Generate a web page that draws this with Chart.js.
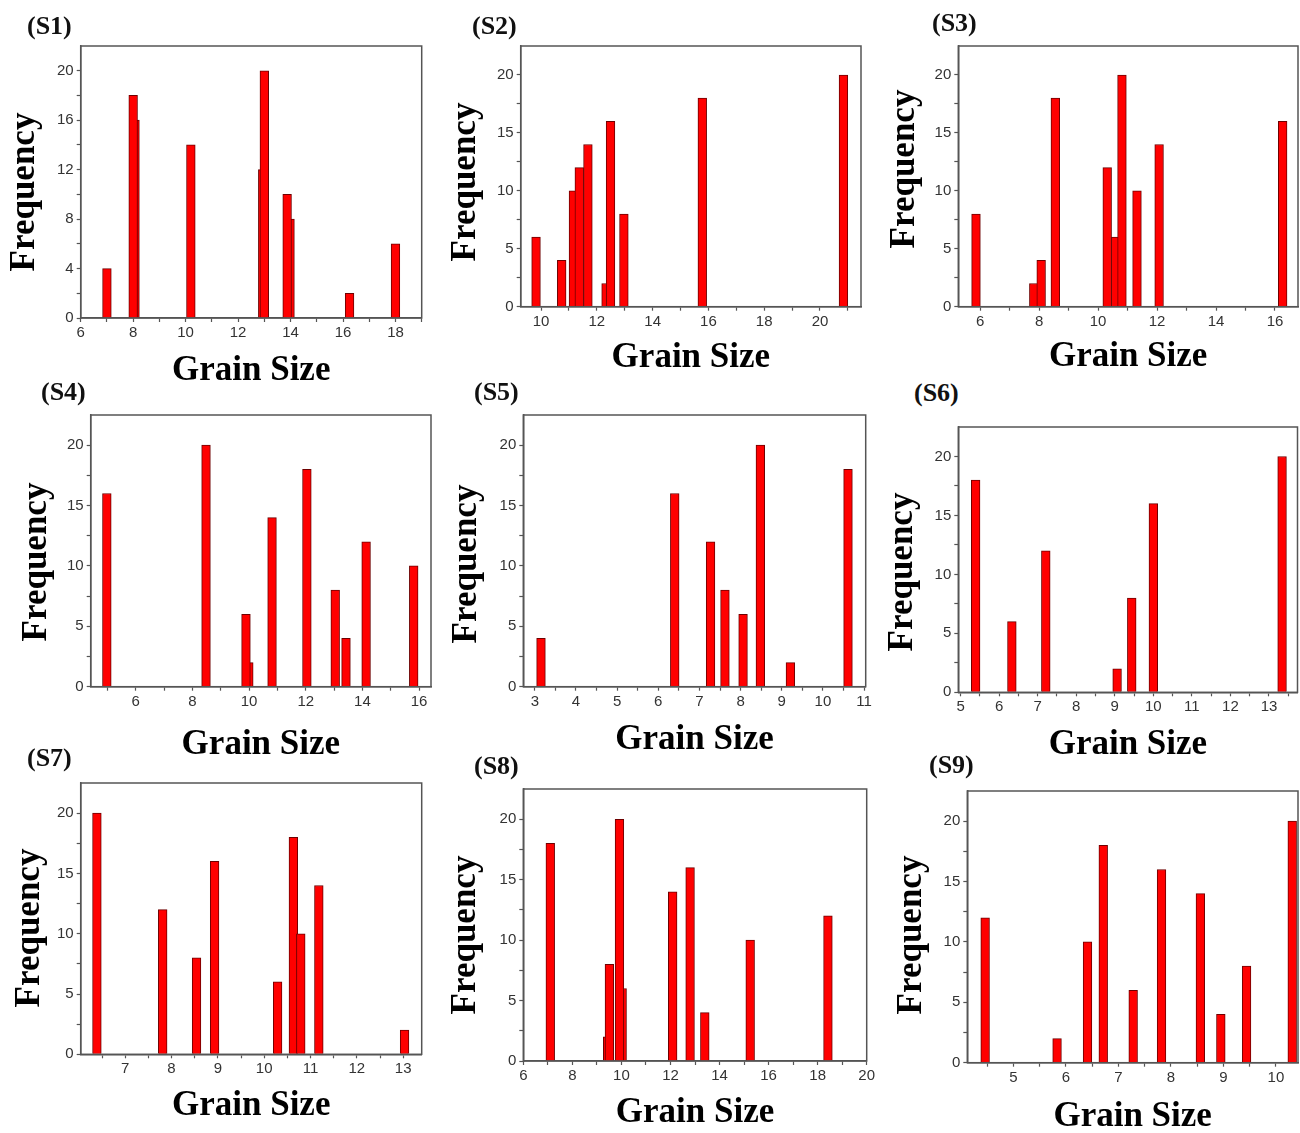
<!DOCTYPE html>
<html>
<head>
<meta charset="utf-8">
<title>Grain size distributions S1-S9</title>
<script src="https://cdn.jsdelivr.net/npm/chart.js@4.4.1/dist/chart.umd.min.js"></script>
<style>
  html, body { margin: 0; padding: 0; background: #fff; overflow: hidden; }
  body { width: 1300px; height: 1133px; position: relative; }
  canvas { position: absolute; }
  .tag { position: absolute; font: bold 26px "Liberation Serif", "Times New Roman", serif; line-height: 26px; color: #111; white-space: nowrap; }
</style>
</head>
<body>
<script>
// grain size / frequency for each sample, in drawing order (bars that sit behind come first)
const sizesS1 = [7.0, 8.07, 8.0, 10.2, 12.94, 13.0, 13.98, 13.87, 16.25, 18.0];
const countsS1 = [4, 16, 18, 14, 12, 20, 8, 10, 2, 6];

const sizesS2 = [9.82, 10.74, 11.16, 11.37, 11.68, 12.33, 12.49, 12.97, 15.78, 20.84];
const countsS2 = [6, 4, 10, 12, 14, 2, 16, 8, 18, 20];

const sizesS3 = [5.86, 7.82, 8.07, 8.55, 10.31, 10.6, 10.81, 11.32, 12.07, 16.26];
const countsS3 = [8, 2, 4, 18, 12, 6, 20, 10, 14, 16];

const sizesS4 = [4.98, 8.48, 9.99, 9.89, 10.81, 12.04, 13.04, 13.42, 14.13, 15.81];
const countsS4 = [16, 20, 2, 6, 14, 18, 8, 4, 12, 10];

const sizesS5 = [3.15, 6.40, 7.27, 7.62, 8.06, 8.48, 9.21, 10.61];
const countsS5 = [4, 16, 12, 8, 6, 20, 2, 18];

const sizesS6 = [5.39, 6.33, 7.21, 9.06, 9.44, 10.0, 13.34];
const countsS6 = [18, 6, 12, 2, 8, 16, 20];

const sizesS7 = [6.39, 7.81, 8.54, 8.93, 10.29, 10.63, 10.79, 11.18, 13.03];
const countsS7 = [20, 12, 8, 16, 6, 18, 10, 14, 2];

const sizesS8 = [7.10, 9.44, 9.51, 10.03, 9.92, 12.09, 12.80, 13.40, 15.25, 18.42];
const countsS8 = [18, 2, 8, 6, 20, 14, 16, 4, 10, 12];

const sizesS9 = [4.46, 5.83, 6.41, 6.71, 7.28, 7.82, 8.56, 8.95, 9.44, 10.31];
const countsS9 = [12, 2, 10, 18, 6, 16, 14, 4, 8, 20];

// labelled ticks on each axis
const xLabelsS1 = [6, 8, 10, 12, 14, 16, 18];
const xLabelsS2 = [10, 12, 14, 16, 18, 20];
const xLabelsS3 = [6, 8, 10, 12, 14, 16];
const xLabelsS4 = [6, 8, 10, 12, 14, 16];
const xLabelsS5 = [3, 4, 5, 6, 7, 8, 9, 10, 11];
const xLabelsS6 = [5, 6, 7, 8, 9, 10, 11, 12, 13];
const xLabelsS7 = [7, 8, 9, 10, 11, 12, 13];
const xLabelsS8 = [6, 8, 10, 12, 14, 16, 18, 20];
const xLabelsS9 = [5, 6, 7, 8, 9, 10];
const yLabelsS1 = [0, 4, 8, 12, 16, 20];
const yLabels = [0, 5, 10, 15, 20];

// panel layout: plot box in page pixels, axis ranges, minor steps,
// centre of the "Frequency" title (fx, fy), centre line of "Grain Size" (gy), tag position
const panels = [
  { tag: '(S1)', sizes: sizesS1, counts: countsS1, xl: xLabelsS1, yl: yLabelsS1, box: [80.7, 44, 421.7, 318], x: [6, 19], xm: 1, yMax: 22, ym: 2, fx: 25, fy: 192, gy: 371, tx: 27, ty: 28 },
  { tag: '(S2)', sizes: sizesS2, counts: countsS2, xl: xLabelsS2, yl: yLabels, box: [520.7, 44, 861, 306.7], x: [9.27, 21.47], xm: 1, yMax: 22.5, ym: 2.5, fx: 466, fy: 182, gy: 358, tx: 472, ty: 28 },
  { tag: '(S3)', sizes: sizesS3, counts: countsS3, xl: xLabelsS3, yl: yLabels, box: [958.3, 44, 1298, 306.7], x: [5.26, 16.78], xm: 1, yMax: 22.5, ym: 2.5, fx: 905, fy: 169, gy: 357, tx: 932, ty: 25 },
  { tag: '(S4)', sizes: sizesS4, counts: countsS4, xl: xLabelsS4, yl: yLabels, box: [90.7, 412.7, 431, 686.7], x: [4.41, 16.42], xm: 1, yMax: 22.5, ym: 2.5, fx: 37, fy: 562, gy: 745, tx: 41, ty: 394 },
  { tag: '(S5)', sizes: sizesS5, counts: countsS5, xl: xLabelsS5, yl: yLabels, box: [523.3, 412.7, 865.7, 686.7], x: [2.72, 11.04], xm: 0.5, yMax: 22.5, ym: 2.5, fx: 467, fy: 564, gy: 740, tx: 474, ty: 394 },
  { tag: '(S6)', sizes: sizesS6, counts: countsS6, xl: xLabelsS6, yl: yLabels, box: [958.3, 425, 1297.5, 692.3], x: [4.94, 13.74], xm: 0.5, yMax: 22.5, ym: 2.5, fx: 903, fy: 572, gy: 745, tx: 914, ty: 395 },
  { tag: '(S7)', sizes: sizesS7, counts: countsS7, xl: xLabelsS7, yl: yLabels, box: [80.7, 781, 421.7, 1054.3], x: [6.04, 13.4], xm: 0.5, yMax: 22.5, ym: 2.5, fx: 30, fy: 928, gy: 1106, tx: 27, ty: 760 },
  { tag: '(S8)', sizes: sizesS8, counts: countsS8, xl: xLabelsS8, yl: yLabels, box: [523.3, 787.3, 866.7, 1061], x: [6, 20], xm: 1, yMax: 22.5, ym: 2.5, fx: 466, fy: 935, gy: 1113, tx: 474, ty: 768 },
  { tag: '(S9)', sizes: sizesS9, counts: countsS9, xl: xLabelsS9, yl: yLabels, box: [967.3, 789.3, 1298, 1062.7], x: [4.12, 10.42], xm: 0.5, yMax: 22.5, ym: 2.5, fx: 912, fy: 935, gy: 1117, tx: 929, ty: 767 }
];

Chart.defaults.font.family = '"Liberation Sans", Arial, sans-serif';
Chart.defaults.font.size = 15;
Chart.defaults.color = '#333';

const serif = '"Liberation Serif", "Times New Roman", serif';
const axisGrey = '#555';
const titleFont = { family: serif, size: 35, weight: 'bold', lineHeight: 1.2 };
const half = 21; // half of the title line height

// closes the box on top and right like an Origin frame
const frame = {
  id: 'frame',
  afterDraw(chart) {
    const a = chart.chartArea;
    const ctx = chart.ctx;
    ctx.save();
    ctx.strokeStyle = axisGrey;
    ctx.lineWidth = 1.5;
    ctx.strokeRect(a.left, a.top, a.right - a.left, a.bottom - a.top);
    ctx.restore();
  }
};

// rotated "Frequency" label, placed by hand so it can sit off the plot's centre line
const yTitle = {
  id: 'yTitle',
  afterDraw(chart, args, opts) {
    const ctx = chart.ctx;
    ctx.save();
    ctx.translate(opts.x, opts.y);
    ctx.rotate(-Math.PI / 2);
    ctx.font = 'bold 35px ' + serif;
    ctx.fillStyle = '#000';
    ctx.textAlign = 'center';
    ctx.textBaseline = 'middle';
    ctx.fillText(opts.text, 0, 0);
    ctx.restore();
  }
};

function tickList(min, max, step, limit) {
  const out = [];
  const top = Math.min(max, limit);
  let v = Math.ceil((min - 1e-9) / step) * step;
  for (; v <= top + 1e-9; v += step) out.push(+v.toFixed(3));
  return out;
}

panels.forEach(function (p) {
  const [l, t, r, b] = p.box;
  const left = Math.round(p.fx - half);
  const top = Math.round(t - 10);
  const right = Math.round(r + 12);
  const bottom = Math.round(p.gy + half);

  const cv = document.createElement('canvas');
  cv.width = right - left;
  cv.height = bottom - top;
  cv.style.left = left + 'px';
  cv.style.top = top + 'px';
  document.body.appendChild(cv);

  const xt = tickList(p.x[0], p.x[1], p.xm, p.x[1]);
  const yt = tickList(0, p.yMax, p.ym, 20);

  new Chart(cv, {
    type: 'bar',
    data: {
      datasets: [{
        data: p.sizes.map((s, i) => ({ x: s, y: p.counts[i] })),
        backgroundColor: '#ff0000',
        borderColor: '#6e0000',
        borderWidth: 1,
        barThickness: 8.7
      }]
    },
    options: {
      responsive: false,
      animation: false,
      layout: { padding: { top: t - top, right: right - r, left: 0, bottom: 0 } },
      plugins: {
        legend: { display: false },
        tooltip: { enabled: false },
        yTitle: { text: 'Frequency', x: p.fx - left, y: p.fy - top }
      },
      scales: {
        x: {
          type: 'linear',
          min: p.x[0],
          max: p.x[1],
          offset: false,
          grid: { offset: false, drawOnChartArea: false, color: axisGrey, tickLength: 4, tickWidth: 1.2 },
          border: { color: axisGrey, width: 1.5 },
          ticks: {
            autoSkip: false, maxRotation: 0, padding: 2,
            callback: v => p.xl.includes(v) ? v : ''
          },
          afterBuildTicks: s => { s.ticks = xt.map(v => ({ value: v })); },
          afterFit: s => { s.height = bottom - b; },
          title: { display: true, text: 'Grain Size', font: titleFont, color: '#000', padding: 0 }
        },
        y: {
          min: 0,
          max: p.yMax,
          grid: { drawOnChartArea: false, color: axisGrey, tickLength: 4, tickWidth: 1.2 },
          border: { color: axisGrey, width: 1.5 },
          ticks: {
            autoSkip: false, padding: 3,
            callback: v => p.yl.includes(v) ? v : ''
          },
          afterBuildTicks: s => { s.ticks = yt.map(v => ({ value: v })); },
          afterFit: s => { s.width = l - left; }
        }
      }
    },
    plugins: [frame, yTitle]
  });

  const tag = document.createElement('div');
  tag.className = 'tag';
  tag.textContent = p.tag;
  tag.style.left = p.tx + 'px';
  tag.style.top = (p.ty - 15) + 'px';
  document.body.appendChild(tag);
});
</script>
</body>
</html>
